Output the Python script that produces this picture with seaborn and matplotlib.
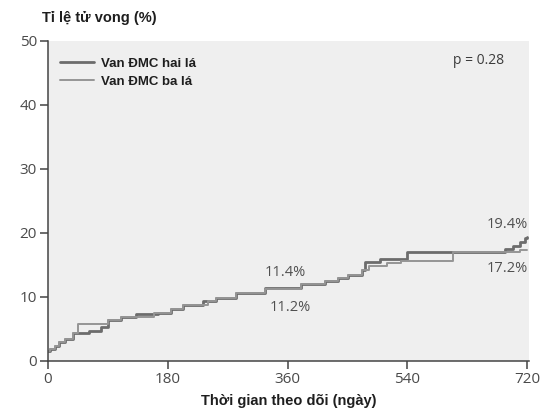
import matplotlib
matplotlib.use("Agg")
import matplotlib.pyplot as plt
import seaborn as sns
import pandas as pd

# Data
days_hai = [0, 3, 10, 17, 25, 37, 62, 80, 90, 110, 133, 165, 185, 203, 233, 253, 283, 326,
            381, 416, 436, 451, 472, 477, 499, 539, 687, 699, 710, 717, 720]
vals_hai = [1.5, 1.9, 2.3, 2.9, 3.5, 4.3, 4.7, 5.3, 6.4, 6.8, 7.3, 7.5, 8.1, 8.75, 9.4, 9.8, 10.7, 11.4,
            12.1, 12.5, 12.9, 13.4, 14.2, 15.5, 16.0, 17.0, 17.5, 18.0, 18.6, 19.2, 19.4]
days_ba = [0, 3, 10, 17, 25, 37, 45, 90, 110, 160, 185, 203, 240, 253, 283, 326,
           381, 416, 436, 451, 472, 482, 510, 530, 609, 710, 720]
vals_ba = [1.5, 1.9, 2.3, 2.9, 3.5, 4.4, 5.8, 6.4, 6.8, 7.5, 8.1, 8.75, 9.4, 9.8, 10.7, 11.2,
           12.1, 12.5, 12.9, 13.4, 14.2, 14.8, 15.3, 15.7, 17.0, 17.3, 17.3]
series_names = ["Van ĐMC hai lá", "Van ĐMC ba lá"]
x_ticks = [0, 180, 360, 540, 720]
y_ticks = [0, 10, 20, 30, 40, 50]
annotations = [("11.4%", 356, 13.9), ("11.2%", 364, 8.4), ("19.4%", 690, 21.4), ("17.2%", 690, 14.4)]
p_text = "p = 0.28"

sns.set_style("ticks")
plt.rcParams['font.family'] = ['Liberation Sans', 'DejaVu Sans']

fig = plt.figure(figsize=(5.47, 4.18), dpi=100)
ax = fig.add_axes([48/547, 57/418, 481/547, 320/418])
ax.set_facecolor("#efefef")

df_hai = pd.DataFrame({"day": days_hai, "val": vals_hai})
df_ba = pd.DataFrame({"day": days_ba, "val": vals_ba})
sns.lineplot(data=df_hai, x="day", y="val", ax=ax, drawstyle="steps-post", color="#6c6c6c",
             linewidth=2.0, label=series_names[0], estimator=None, sort=False)
sns.lineplot(data=df_ba, x="day", y="val", ax=ax, drawstyle="steps-post", color="#959595",
             linewidth=1.4, label=series_names[1], estimator=None, sort=False)

ax.set_xlim(0, 723)
ax.set_ylim(0, 50)
ax.set_xticks(x_ticks)
ax.set_yticks(y_ticks)
ax.tick_params(axis="both", direction="out", length=6, width=1.1, color="#444444",
               labelsize=11, labelcolor="#4a4a4a", pad=2)
for lab in ax.get_xticklabels() + ax.get_yticklabels():
    lab.set_family(["Open Sans", "DejaVu Sans"])
for s in ["top", "right"]:
    ax.spines[s].set_visible(False)
for s in ["left", "bottom"]:
    ax.spines[s].set_color("#444444")
    ax.spines[s].set_linewidth(1.1)

ax.set_xlabel("Thời gian theo dõi (ngày)", fontsize=10.5, fontweight="bold", color="#1e1e1e", labelpad=5)
ax.set_ylabel("")
fig.text(42/547, 1 - 18/418, "Tỉ lệ tử vong (%)", fontsize=10.5, fontweight="bold", color="#1e1e1e",
         ha="left", va="center")

for txt, xd, yd in annotations:
    ax.text(xd, yd, txt, fontsize=10.5, color="#505050", ha="center", va="center",
            family=["Open Sans", "DejaVu Sans"])
ax.text(647, 46.9, p_text, fontsize=10, color="#3c3c3c", ha="center", va="center",
        family=["Open Sans", "DejaVu Sans"])

leg = ax.legend(loc="upper left", bbox_to_anchor=(0.0, 0.985), frameon=False, handlelength=2.6,
                handletextpad=0.5, labelspacing=0.45, prop={"weight": "bold", "size": 9.5})
for t in leg.get_texts():
    t.set_color("#1e1e1e")

fig.savefig("out.png", dpi=100)
